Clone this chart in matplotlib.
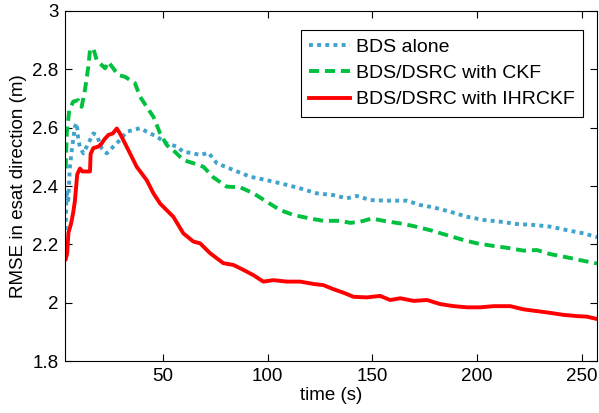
import matplotlib.pyplot as plt

plt.rcParams['font.family'] = ['Liberation Sans', 'DejaVu Sans']
plt.rcParams['font.size'] = 13.5

# BDS alone
t_bds = [3.5, 3.9, 4.7, 5.5, 6.4, 7.9, 8.8, 9.5, 10.3, 11.9, 14.3, 16.7, 18.3, 20.7, 23.1,
         26.2, 29.4, 32.6, 35.8, 39.0, 42.2, 47.0, 51.8, 56.6, 59.7, 64.5, 67.7, 71.7, 75.7,
         83.6, 91.6, 99.6, 107.5, 115.5, 123.5, 131.4, 137.8, 142.6, 149.0, 157.0, 166.5,
         172.9, 179.2, 187.2, 195.2, 203.2, 211.1, 219.1, 227.0, 235.0, 243.0, 250.9, 257.3]
rmse_bds = [2.25, 2.386, 2.352, 2.466, 2.523, 2.603, 2.615, 2.557, 2.535, 2.512, 2.546, 2.58,
            2.575, 2.529, 2.512, 2.535, 2.557, 2.586, 2.592, 2.598, 2.586, 2.569, 2.546, 2.535,
            2.517, 2.512, 2.506, 2.514, 2.478, 2.455, 2.432, 2.42, 2.407, 2.392, 2.375, 2.369,
            2.358, 2.366, 2.352, 2.35, 2.35, 2.335, 2.327, 2.312, 2.295, 2.284, 2.278, 2.27,
            2.267, 2.261, 2.249, 2.238, 2.225]

# BDS/DSRC with CKF
t_ckf = [3.5, 4.0, 5.2, 7.1, 9.5, 11.1, 12.7, 14.3, 15.1, 16.7, 18.3, 20.7, 22.3, 23.9, 26.2,
         28.6, 31.8, 34.2, 36.6, 39.0, 42.2, 45.4, 48.6, 51.8, 55.7, 59.7, 64.5, 69.3, 74.0,
         80.4, 86.8, 93.2, 99.6, 105.9, 112.3, 120.3, 126.6, 134.6, 139.4, 144.2, 149.8,
         155.3, 163.3, 169.7, 177.6, 185.6, 193.6, 199.9, 207.9, 215.9, 222.2, 228.6, 235.0,
         243.0, 250.9, 257.3]
rmse_ckf = [2.46, 2.58, 2.66, 2.689, 2.694, 2.671, 2.729, 2.808, 2.866, 2.871, 2.831, 2.814,
            2.803, 2.825, 2.803, 2.78, 2.774, 2.763, 2.752, 2.706, 2.671, 2.637, 2.58, 2.54,
            2.517, 2.489, 2.478, 2.466, 2.43, 2.398, 2.396, 2.375, 2.346, 2.318, 2.301, 2.289,
            2.281, 2.281, 2.274, 2.278, 2.289, 2.281, 2.272, 2.263, 2.249, 2.232, 2.215, 2.204,
            2.195, 2.187, 2.179, 2.181, 2.167, 2.156, 2.144, 2.135]

# BDS/DSRC with IHRCKF
t_ihr = [3.5, 4.2, 4.8, 6.0, 7.1, 7.9, 9.0, 10.3, 11.5, 13.5, 15.1, 15.4, 16.7, 19.1, 20.7,
         22.0, 23.9, 26.0, 27.9, 29.4, 32.6, 37.4, 42.2, 45.4, 48.6, 54.9, 59.7, 64.5, 67.7,
         72.5, 78.8, 83.6, 88.4, 93.2, 97.9, 102.7, 109.1, 115.5, 121.8, 126.6, 131.4, 136.2,
         141.0, 147.4, 153.7, 158.5, 163.3, 169.7, 176.1, 182.4, 188.8, 195.2, 201.5, 207.9,
         215.9, 222.2, 228.6, 235.0, 241.4, 247.7, 252.5, 257.3]
rmse_ihr = [2.15, 2.17, 2.24, 2.27, 2.31, 2.35, 2.44, 2.46, 2.45, 2.45, 2.45, 2.51, 2.53,
            2.535, 2.546, 2.56, 2.575, 2.58, 2.597, 2.58, 2.535, 2.466, 2.42, 2.375, 2.34,
            2.295, 2.238, 2.21, 2.204, 2.17, 2.136, 2.13, 2.113, 2.095, 2.073, 2.078, 2.073,
            2.073, 2.065, 2.061, 2.047, 2.035, 2.021, 2.019, 2.024, 2.01, 2.016, 2.007, 2.01,
            1.996, 1.989, 1.985, 1.985, 1.989, 1.989, 1.978, 1.972, 1.966, 1.959, 1.955,
            1.953, 1.945]

fig = plt.figure(figsize=(5.99, 4.13), dpi=100)
ax = fig.add_axes([0.109, 0.125, 0.8877, 0.849])

ax.plot(t_bds, rmse_bds, color='#3fa3cc', lw=2.8, dashes=(1, 1.1),
        dash_capstyle='butt', label='BDS alone')
ax.plot(t_ckf, rmse_ckf, color='#00c040', lw=2.8, dashes=(2.6, 1.5),
        dash_capstyle='butt', label='BDS/DSRC with CKF')
ax.plot(t_ihr, rmse_ihr, color='#ff0000', lw=2.8, label='BDS/DSRC with IHRCKF')

ax.set_xlim(3.3, 257.3)
ax.set_ylim(1.8, 3)
ax.set_xticks([50, 100, 150, 200, 250])
ax.set_yticks([1.8, 2, 2.2, 2.4, 2.6, 2.8, 3])
ax.set_yticklabels(['1.8', '2', '2.2', '2.4', '2.6', '2.8', '3'])
ax.tick_params(direction='in', top=True, right=True, length=5, width=0.8, pad=5)
ax.set_xlabel('time (s)', labelpad=1)
ax.set_ylabel('RMSE in esat direction (m)', labelpad=4)

leg = ax.legend(loc='upper right', bbox_to_anchor=(583 / 599, 1 - 30 / 413),
                bbox_transform=fig.transFigure, borderaxespad=0, fancybox=False,
                edgecolor='black', framealpha=1, fontsize=14, handlelength=2.1,
                handletextpad=0.3, labelspacing=0.45, borderpad=0.42)
leg.get_frame().set_linewidth(0.8)

fig.savefig('out.png', dpi=100)
